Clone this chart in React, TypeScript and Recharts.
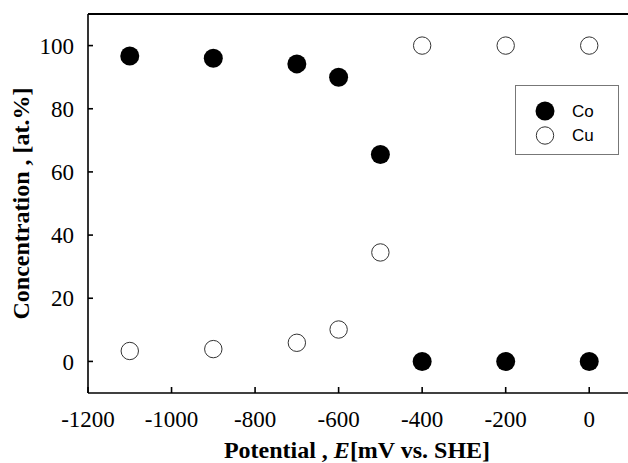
import { ScatterChart, Scatter, XAxis, YAxis, ReferenceLine } from 'recharts';

const potentials = [-1100, -900, -700, -600, -500, -400, -200, 0];
const coValues = [96.7, 96.0, 94.2, 90.0, 65.5, 0, 0, 0];
const cuValues = [3.3, 3.9, 5.9, 10.1, 34.5, 100, 100, 100];
const xTicks = [-1200, -1000, -800, -600, -400, -200, 0];
const yTicks = [0, 20, 40, 60, 80, 100];

const coData = potentials.map((x, i) => ({ x, y: coValues[i] }));
const cuData = potentials.map((x, i) => ({ x, y: cuValues[i] }));

const serif = '"Liberation Serif", "Times New Roman", serif';
const sans = '"Liberation Sans", Arial, sans-serif';

const FilledDot = (props: any) => (
  <circle cx={props.cx} cy={props.cy} r={9.5} fill="#000" />
);
const OpenDot = (props: any) => (
  <circle cx={props.cx} cy={props.cy} r={8.7} fill="#fff" stroke="#333" strokeWidth={1} />
);

// legend drawn as an overlay so it doesn't shrink the plot area
const LegendBox = () => (
  <div
    style={{
      position: 'absolute',
      left: 515,
      top: 85,
      width: 104,
      height: 70,
      boxSizing: 'border-box',
      border: '1px solid #777',
      background: '#fff',
    }}
  >
    <svg width={104} height={70} style={{ position: 'absolute', left: -1, top: -1 }}>
      <circle cx={30} cy={26} r={9.5} fill="#000" />
      <circle cx={30} cy={50.5} r={8.7} fill="#fff" stroke="#333" strokeWidth={1} />
      <text x={57} y={26} dy="0.35em" fontFamily={sans} fontSize={17} fill="#000">Co</text>
      <text x={57} y={50.5} dy="0.35em" fontFamily={sans} fontSize={17} fill="#000">Cu</text>
    </svg>
  </div>
);

const YLabel = (props: any) => {
  const vb = props.viewBox;
  const cy = vb.y + vb.height / 2;
  return (
    <text
      x={21}
      y={cy}
      transform={`rotate(-90, 21, ${cy})`}
      textAnchor="middle"
      dominantBaseline="central"
      fontFamily={serif}
      fontWeight="bold"
      fontSize={24}
      fill="#000"
    >
      Concentration , [at.%]
    </text>
  );
};

const XLabel = (props: any) => {
  const vb = props.viewBox;
  return (
    <text
      x={357}
      y={vb.y + 65}
      textAnchor="middle"
      fontFamily={serif}
      fontWeight="bold"
      fontSize={24}
      fill="#000"
    >
      Potential , <tspan fontStyle="italic">E</tspan>[mV vs. SHE]
    </text>
  );
};

export default function App() {
  return (
    <div
      style={{
        position: 'absolute',
        left: 0,
        top: 0,
        width: 628,
        height: 463,
        overflow: 'hidden',
        background: '#fff',
      }}
    >
      <ScatterChart
        width={640}
        height={463}
        margin={{ top: 14, right: 9, left: 28, bottom: 0 }}
      >
        <XAxis
          type="number"
          dataKey="x"
          domain={[-1200, 100]}
          ticks={xTicks}
          allowDataOverflow
          height={70}
          stroke="#000"
          strokeWidth={1.6}
          tickSize={-6}
          tickMargin={24}
          tick={{ fill: '#000', fontFamily: serif, fontSize: 23 }}
          label={<XLabel />}
        />
        <YAxis
          type="number"
          dataKey="y"
          domain={[-10, 110]}
          ticks={yTicks}
          allowDataOverflow
          width={60}
          stroke="#000"
          strokeWidth={1.6}
          tickSize={-5}
          tickMargin={19}
          tick={{ fill: '#000', fontFamily: serif, fontSize: 23 }}
          label={<YLabel />}
        />
        <ReferenceLine y={110} stroke="#000" strokeWidth={2} />
        <Scatter name="Co" data={coData} fill="#000" shape={<FilledDot />} isAnimationActive={false} />
        <Scatter name="Cu" data={cuData} fill="#fff" shape={<OpenDot />} isAnimationActive={false} />
      </ScatterChart>
      <LegendBox />
    </div>
  );
}
